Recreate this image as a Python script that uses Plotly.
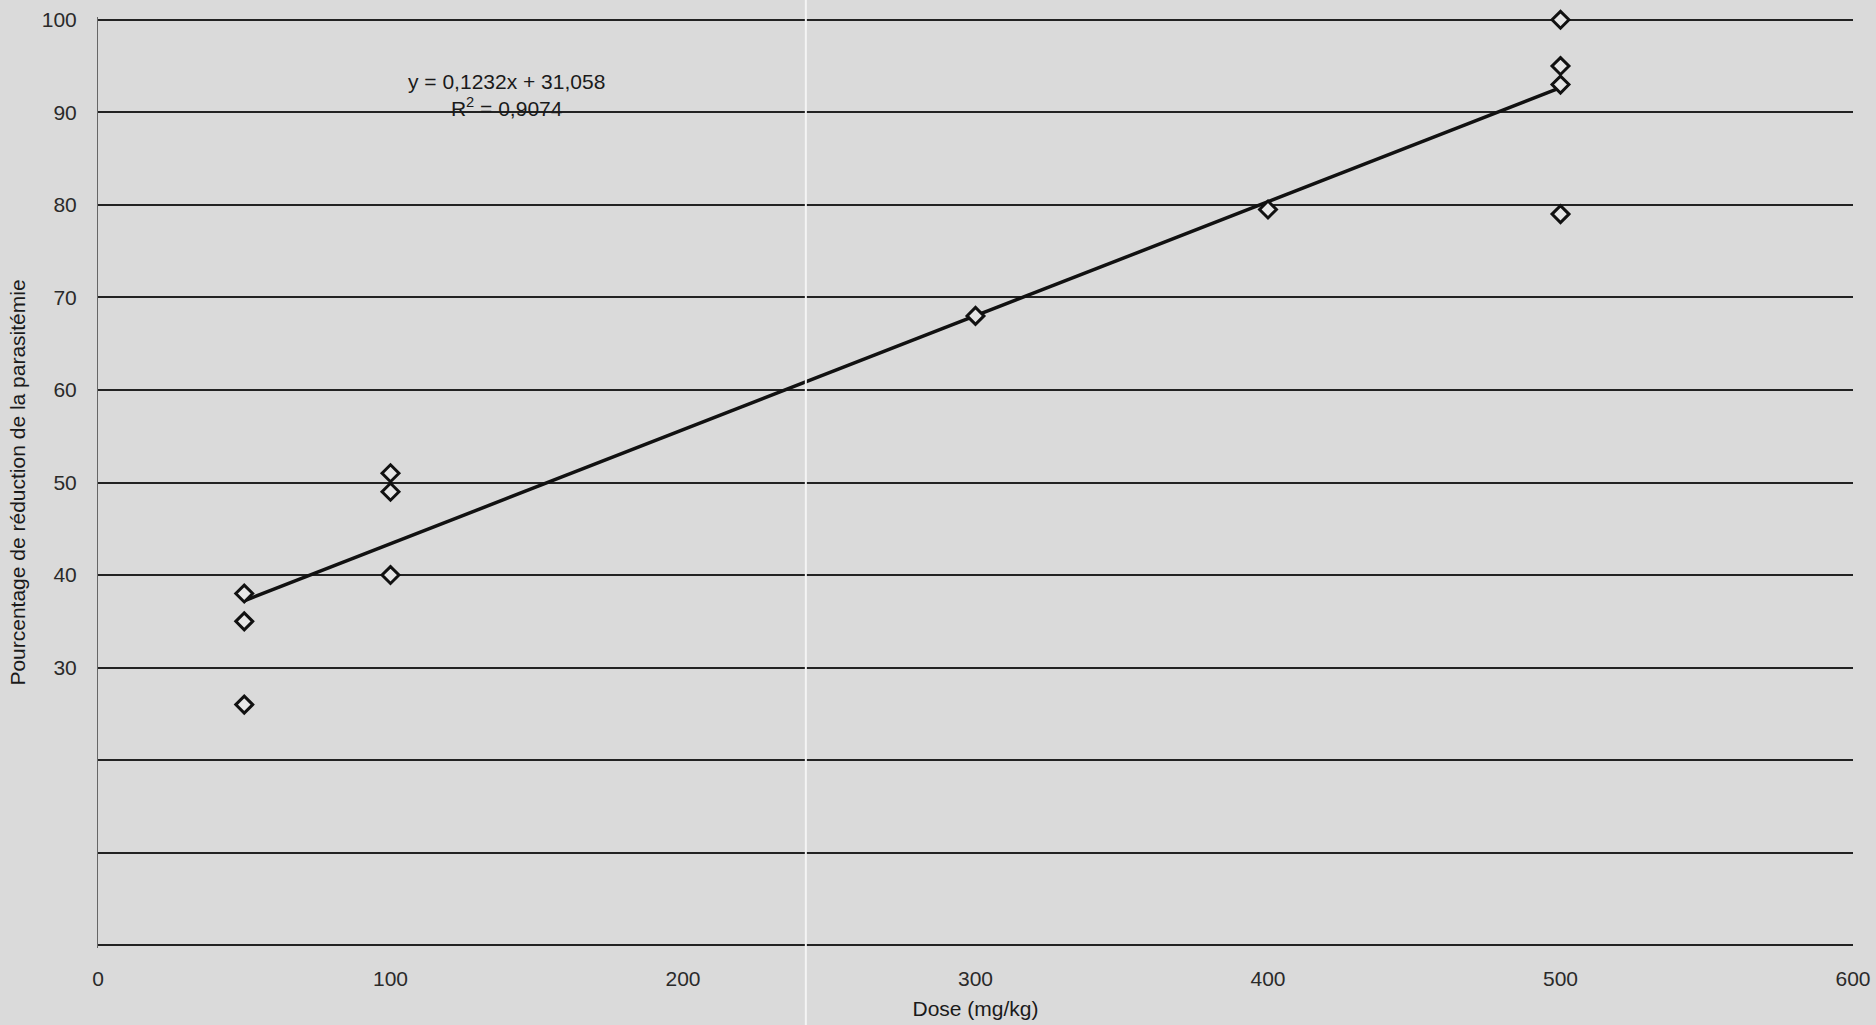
import plotly.graph_objects as go

# Data
dose = [50, 50, 50, 100, 100, 100, 300, 400, 500, 500, 500, 500]
reduction = [38, 35, 26, 51, 49, 40, 68, 79.5, 100, 95, 93, 79]

# Reported linear trendline
slope = 0.1232
intercept = 31.058
r2_text = "0,9074"

y_ticks = [30, 40, 50, 60, 70, 80, 90, 100]
y_ticktext = ["30", "40", "50", "60", "70", "80", "90", "100"]
y_extra_grid = [0, 10, 20]
x_ticks = [0, 100, 200, 300, 400, 500, 600]
x_ticktext = ["0", "100", "200", "300", "400", "500", "600"]

bg = "#dadada"
font_family = "Liberation Sans, Arial, sans-serif"
fs = 21

x_line = [min(dose), max(dose)]
y_line = [slope * v + intercept for v in x_line]

fig = go.Figure()
fig.add_trace(go.Scatter(
    x=x_line, y=y_line, mode="lines",
    line=dict(color="#111111", width=3.5), showlegend=False, hoverinfo="skip"))
fig.add_trace(go.Scatter(
    x=dose, y=reduction, mode="markers", cliponaxis=False,
    marker=dict(symbol="diamond", size=13, color="#e6e6e6",
                line=dict(color="#111111", width=3)),
    showlegend=False))

fig.add_annotation(
    x=0.2326, y=0.916, xref="paper", yref="paper", xanchor="center", yanchor="middle",
    text=f"y = {str(slope).replace('.', ',')}x + {str(intercept).replace('.', ',')}<br>R<sup>2</sup> = {r2_text}",
    showarrow=False, align="center",
    font=dict(family=font_family, size=fs, color="#1a1a1a"))

# scanner artefact: faint light vertical streak
fig.add_shape(type="line", xref="x", yref="paper", x0=242, x1=242, y0=-0.12, y1=1.03,
              line=dict(color="#f4f4f4", width=2), layer="above")

fig.update_layout(
    width=1876, height=1025,
    paper_bgcolor=bg, plot_bgcolor=bg,
    margin=dict(l=98, r=23, t=17, b=77),
    font=dict(family=font_family, size=fs, color="#2a2a2a"),
    xaxis=dict(range=[0, 600], tickvals=x_ticks, ticktext=x_ticktext,
               showgrid=False, zeroline=False, showline=False, automargin=False,
               ticks="", ticklabelstandoff=16, ticklabeloverflow="allow",
               tickfont=dict(size=fs, color="#2a2a2a"),
               title=dict(text="Dose (mg/kg)", font=dict(size=fs, color="#1a1a1a"), standoff=12)),
    yaxis=dict(range=[-0.3, 100.3], tickvals=y_ticks, ticktext=y_ticktext,
               showgrid=True, gridcolor="#222222", gridwidth=1.5,
               minor=dict(tickvals=y_extra_grid, showgrid=True, gridcolor="#222222", gridwidth=1.5),
               zeroline=False, showline=True, linecolor="#666666", linewidth=1,
               ticks="", ticklabelstandoff=16, automargin=False,
               tickfont=dict(size=fs, color="#2a2a2a"),
               title=dict(text="Pourcentage de réduction de la parasitémie",
                          font=dict(size=fs, color="#1a1a1a"), standoff=10)),
)

fig.write_html("out.html", config={"displayModeBar": False},
               post_script="document.body.style.margin='0';")
